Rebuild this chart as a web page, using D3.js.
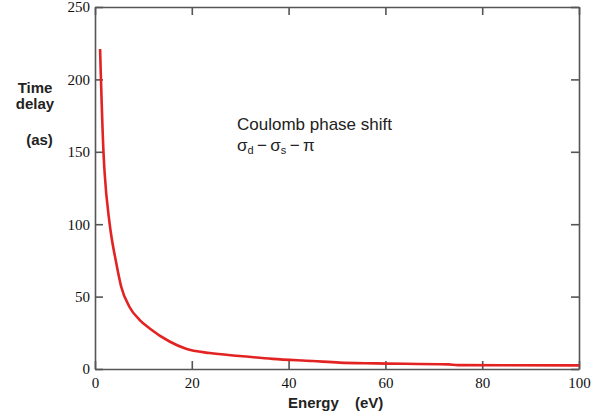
<!DOCTYPE html>
<meta charset="utf-8">
<style>
body { margin: 0; background: #fff; }
.tick text { font-family: "Liberation Serif", "DejaVu Serif", serif; font-size: 15px; fill: #111; }
.lbl { font-family: "Liberation Sans", Arial, sans-serif; font-weight: bold; font-size: 15px; fill: #222; }
.note { font-family: "Liberation Sans", Arial, sans-serif; font-size: 17px; fill: #222; }
</style>
<body>
<script src="https://cdn.jsdelivr.net/npm/d3@7"></script>
<script>

// data
var energy = [1.05, 1.75, 2.0, 3.0, 4.4, 5.4, 7.1, 9.2, 11.3, 15.4, 18.8, 23.7, 29.9, 36.7, 45, 50.5, 58, 73, 75, 100];
var delay  = [221, 150, 135, 101, 73, 57, 43, 34, 28, 19, 14, 11, 9, 7, 5.5, 4.4, 3.9, 3.2, 2.7, 2.5];
var xTicks = [0, 20, 40, 60, 80, 100];
var yTicks = [0, 50, 100, 150, 200, 250];

var margin = {top: 7, right: 18, bottom: 50, left: 95},
    width = 597 - margin.left - margin.right,
    height = 419 - margin.top - margin.bottom;

var svg = d3.select("body").append("svg")
    .attr("width", 597)
    .attr("height", 419)
  .append("g")
    .attr("transform", "translate(" + margin.left + "," + margin.top + ")");

var x = d3.scaleLinear().domain([0, 100]).range([0, width]);
var y = d3.scaleLinear().domain([0, 250]).range([height, 0]);

var axisColor = "#555";

// axes with ticks pointing inward, mirrored on top/right
var gx = svg.append("g")
    .attr("transform", "translate(0," + height + ")")
    .call(d3.axisBottom(x).tickValues(xTicks).tickSize(-8).tickPadding(8).tickSizeOuter(0));
var gy = svg.append("g")
    .call(d3.axisLeft(y).tickValues(yTicks).tickSize(-8).tickPadding(5).tickSizeOuter(0));
var gt = svg.append("g")
    .call(d3.axisTop(x).tickValues(xTicks).tickSize(-8).tickFormat("").tickSizeOuter(0));
var gr = svg.append("g")
    .attr("transform", "translate(" + width + ",0)")
    .call(d3.axisRight(y).tickValues(yTicks).tickSize(-8).tickFormat("").tickSizeOuter(0));

[gx, gy, gt, gr].forEach(function(g) {
  g.selectAll("path, line").attr("stroke", axisColor).attr("stroke-width", 1.6);
});

// the curve
var line = d3.line()
    .x(function(d, i) { return x(energy[i]); })
    .y(function(d) { return y(d); })
    .curve(d3.curveMonotoneX);

svg.append("path")
    .datum(delay)
    .attr("fill", "none")
    .attr("stroke", "#e32222")
    .attr("stroke-width", 2.6)
    .attr("d", line);

// labels
var root = d3.select("svg");
root.append("text").attr("class", "lbl").attr("x", 35).attr("y", 93).attr("text-anchor", "middle").text("Time");
root.append("text").attr("class", "lbl").attr("x", 35).attr("y", 109).attr("text-anchor", "middle").text("delay");
root.append("text").attr("class", "lbl").attr("x", 39.5).attr("y", 145).attr("text-anchor", "middle").text("(as)");
root.append("text").attr("class", "lbl").attr("x", 288).attr("y", 408).text("Energy");
root.append("text").attr("class", "lbl").attr("x", 355).attr("y", 408).text("(eV)");

root.append("text").attr("class", "note").attr("x", 237).attr("y", 130).text("Coulomb phase shift");
var t2 = root.append("text").attr("class", "note").attr("x", 237).attr("y", 151);
t2.append("tspan").text("σ");
t2.append("tspan").attr("font-size", "11px").attr("dy", 3).text("d");
t2.append("tspan").attr("dy", -3).text("\u2009\u2212\u2009σ");
t2.append("tspan").attr("font-size", "11px").attr("dy", 3).text("s");
t2.append("tspan").attr("dy", -3).text("\u2009\u2212\u2009π");

</script>
</body>
